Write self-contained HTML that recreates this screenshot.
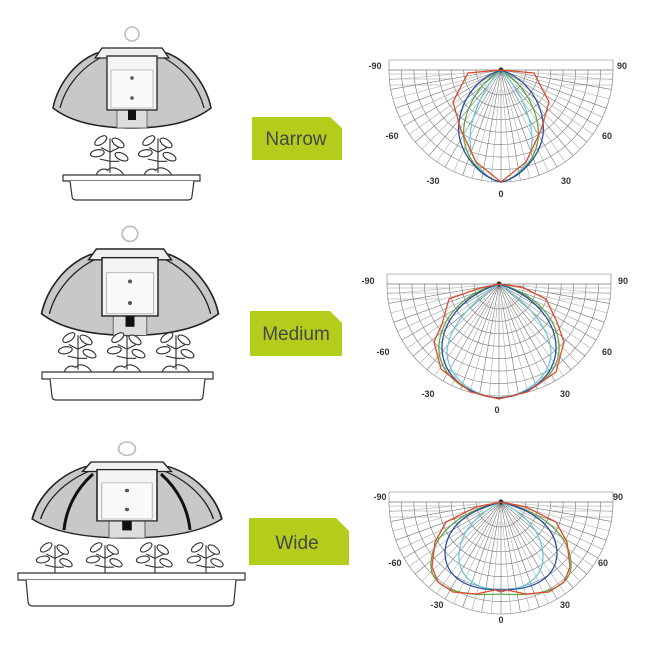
<!DOCTYPE html>
<html><head><style>
html,body{margin:0;padding:0;background:#fff;width:650px;height:650px;overflow:hidden}
svg{display:block}
.ax{font-family:"Liberation Sans",sans-serif;font-size:9px;font-weight:bold;fill:#333;text-anchor:middle}
.lb{font-family:"Liberation Sans",sans-serif;font-size:19px;fill:#474747;text-anchor:middle}
</style></head><body>
<svg width="650" height="650" viewBox="0 0 650 650" xmlns="http://www.w3.org/2000/svg">
<defs>
<g id="grid" fill="none" stroke="#777" stroke-width="0.6">
 <path d="M-112,-10 L112,-10 M-112,-10 L-112,0 M112,-10 L112,0 M-112,0 L112,0"/>
 <path d="M-112,4 L-45,4 M45,4 L112,4 M-112,9 L-50,9 M50,9 L112,9 M-112,15 L-60,15 M60,15 L112,15" stroke="#999"/>
 <path d="M-24.9,0 A24.9,24.9 0 0 0 24.9,0 M-37.3,0 A37.3,37.3 0 0 0 37.3,0 M-49.8,0 A49.8,49.8 0 0 0 49.8,0 M-62.2,0 A62.2,62.2 0 0 0 62.2,0 M-74.7,0 A74.7,74.7 0 0 0 74.7,0 M-87.1,0 A87.1,87.1 0 0 0 87.1,0 M-99.6,0 A99.6,99.6 0 0 0 99.6,0 M-112,0 A112,112 0 0 0 112,0"/>
 <g>
  <line x1="0" y1="0" x2="0" y2="112" transform="rotate(-90)"/>
  <line x1="0" y1="0" x2="0" y2="112" transform="rotate(-80)"/>
  <line x1="0" y1="0" x2="0" y2="112" transform="rotate(-70)"/>
  <line x1="0" y1="0" x2="0" y2="112" transform="rotate(-60)"/>
  <line x1="0" y1="0" x2="0" y2="112" transform="rotate(-50)"/>
  <line x1="0" y1="0" x2="0" y2="112" transform="rotate(-40)"/>
  <line x1="0" y1="0" x2="0" y2="112" transform="rotate(-30)"/>
  <line x1="0" y1="0" x2="0" y2="112" transform="rotate(-20)"/>
  <line x1="0" y1="0" x2="0" y2="112" transform="rotate(-10)"/>
  <line x1="0" y1="0" x2="0" y2="112"/>
  <line x1="0" y1="0" x2="0" y2="112" transform="rotate(10)"/>
  <line x1="0" y1="0" x2="0" y2="112" transform="rotate(20)"/>
  <line x1="0" y1="0" x2="0" y2="112" transform="rotate(30)"/>
  <line x1="0" y1="0" x2="0" y2="112" transform="rotate(40)"/>
  <line x1="0" y1="0" x2="0" y2="112" transform="rotate(50)"/>
  <line x1="0" y1="0" x2="0" y2="112" transform="rotate(60)"/>
  <line x1="0" y1="0" x2="0" y2="112" transform="rotate(70)"/>
  <line x1="0" y1="0" x2="0" y2="112" transform="rotate(80)"/>
  <line x1="0" y1="0" x2="0" y2="112" transform="rotate(90)"/>
 </g>
 <g stroke="#aaa">
  <line x1="0" y1="20" x2="0" y2="112" transform="rotate(-85)"/>
  <line x1="0" y1="20" x2="0" y2="112" transform="rotate(-75)"/>
  <line x1="0" y1="20" x2="0" y2="112" transform="rotate(-65)"/>
  <line x1="0" y1="20" x2="0" y2="112" transform="rotate(-55)"/>
  <line x1="0" y1="20" x2="0" y2="112" transform="rotate(-45)"/>
  <line x1="0" y1="20" x2="0" y2="112" transform="rotate(-35)"/>
  <line x1="0" y1="20" x2="0" y2="112" transform="rotate(-25)"/>
  <line x1="0" y1="20" x2="0" y2="112" transform="rotate(-15)"/>
  <line x1="0" y1="20" x2="0" y2="112" transform="rotate(-5)"/>
  <line x1="0" y1="20" x2="0" y2="112" transform="rotate(5)"/>
  <line x1="0" y1="20" x2="0" y2="112" transform="rotate(15)"/>
  <line x1="0" y1="20" x2="0" y2="112" transform="rotate(25)"/>
  <line x1="0" y1="20" x2="0" y2="112" transform="rotate(35)"/>
  <line x1="0" y1="20" x2="0" y2="112" transform="rotate(45)"/>
  <line x1="0" y1="20" x2="0" y2="112" transform="rotate(55)"/>
  <line x1="0" y1="20" x2="0" y2="112" transform="rotate(65)"/>
  <line x1="0" y1="20" x2="0" y2="112" transform="rotate(75)"/>
  <line x1="0" y1="20" x2="0" y2="112" transform="rotate(85)"/>
 </g>
 <circle cx="0" cy="0" r="2.5" fill="#222" stroke="none"/>
</g>
<g id="lamp">
 <circle cx="0" cy="-14" r="7" fill="none" stroke="#bbb" stroke-width="1.5"/>
 <path d="M-35,5 C-60,15 -75,40 -79,60 C-60,75 -30,80 0,80 C30,80 60,75 79,60 C75,40 60,15 35,5 Z" fill="#c8c8c8" stroke="#222" stroke-width="1.5"/>
 <path d="M-30,9 C-52,20 -67,40 -72,60 M30,9 C52,20 67,40 72,60" fill="none" stroke="#222" stroke-width="1.2"/>
 <path d="M-37,10 L-30,0 L30,0 L37,10 Z" fill="#f0f0f0" stroke="#222" stroke-width="1.3"/>
 <rect x="-15" y="60" width="30" height="20" fill="#ddd" stroke="#555" stroke-width="0.8"/>
 <rect x="-25" y="8" width="50" height="54" fill="#f4f4f4" stroke="#222" stroke-width="1.3"/>
 <rect x="-21" y="22" width="42" height="38" fill="#fafafa" stroke="#999" stroke-width="0.6"/>
 <circle cx="0" cy="30" r="1.8" fill="#555"/><circle cx="0" cy="50" r="1.8" fill="#555"/>
 <rect x="-4" y="62" width="8" height="10" fill="#111"/>
</g>
<g id="plant" fill="#fff" stroke="#333" stroke-width="1">
 <path d="M-12,34 C-10,28 -4,28 -2,30 C0,26 8,27 12,34 Z"/>
 <path d="M0,32 L0,2 M0,14 L-8,10 M0,14 L8,10 M0,22 L-9,20 M0,22 L8,22" fill="none"/>
 <ellipse cx="-8" cy="4" rx="6" ry="3" transform="rotate(-35 -8 4)"/>
 <ellipse cx="7" cy="6" rx="6" ry="3" transform="rotate(35 7 6)"/>
 <ellipse cx="-11" cy="15" rx="6" ry="3" transform="rotate(-10 -11 15)"/>
 <ellipse cx="10" cy="18" rx="6" ry="3" transform="rotate(25 10 18)"/>
</g>
</defs>

<!-- NARROW -->
<use href="#lamp" transform="translate(132,48)"/>
<use href="#plant" transform="translate(110,136) scale(1.15)"/>
<use href="#plant" transform="translate(158,136) scale(1.15)"/>
<path d="M63,175 L200,175 L200,181 L63,181 Z" fill="#fff" stroke="#333" stroke-width="1.2"/>
<path d="M70,181 L72,196 Q72,200 76,200 L188,200 Q192,200 192,196 L194,181" fill="#fff" stroke="#333" stroke-width="1.2"/>

<path d="M252,117 L330,117 L342,128 L342,160 L252,160 Z" fill="#b4cc1b"/>
<text class="lb" x="296" y="145">Narrow</text>

<g transform="translate(501,70)">
 <use href="#grid"/>
 <g fill="none" stroke-width="1.3">
  <path d="M0,0 C-20,20 -35,55 -30,80 C-25,100 -8,112 0,112 C8,112 25,100 30,80 C35,55 20,20 0,0" stroke="#6cc7d8"/>
  <path d="M0,0 C-25,15 -40,45 -37,70 C-33,95 -12,110 0,112 C12,110 33,95 37,70 C40,45 25,15 0,0" stroke="#5fa84a"/>
  <path d="M0,0 C-30,10 -45,40 -42,65 C-38,90 -15,110 0,112 C15,110 38,90 42,65 C45,40 30,10 0,0" stroke="#2a4fa0"/>
  <path d="M0,0 L-33,3 L-48,32 L-40,60 L-25,92 L0,112 L25,92 L40,60 L48,32 L33,3 Z" stroke="#e04a2a"/>
 </g>
</g>
<text class="ax" x="375" y="69">-90</text><text class="ax" x="622" y="69">90</text>
<text class="ax" x="392" y="139">-60</text><text class="ax" x="607" y="139">60</text>
<text class="ax" x="433" y="184">-30</text><text class="ax" x="566" y="184">30</text>
<text class="ax" x="501" y="197">0</text>

<!-- MEDIUM -->
<use href="#lamp" transform="translate(130,249) scale(1.12,1.08)"/>
<use href="#plant" transform="translate(78,333) scale(1.15)"/>
<use href="#plant" transform="translate(127,333) scale(1.15)"/>
<use href="#plant" transform="translate(176,333) scale(1.15)"/>
<path d="M42,372 L213,372 L213,379 L42,379 Z" fill="#fff" stroke="#333" stroke-width="1.2"/>
<path d="M50,379 L52,396 Q52,400 56,400 L199,400 Q203,400 203,396 L205,379" fill="#fff" stroke="#333" stroke-width="1.2"/>

<path d="M250,311 L330,311 L342,323 L342,356 L250,356 Z" fill="#b4cc1b"/>
<text class="lb" x="296" y="340">Medium</text>

<g transform="translate(499,284)">
 <use href="#grid"/>
 <g fill="none" stroke-width="1.3">
  <path d="M0,0 C-30,20 -52,45 -52,70 C-50,95 -25,112 0,114 C25,112 50,95 52,70 C52,45 30,20 0,0" stroke="#6cc7d8"/>
  <path d="M0,0 C-40,10 -62,40 -60,68 C-57,95 -28,112 0,114 C28,112 57,95 60,68 C62,40 40,10 0,0" stroke="#5fa84a"/>
  <path d="M0,0 C-38,12 -58,40 -57,66 C-55,95 -28,112 0,114 C28,112 55,95 57,66 C58,40 38,12 0,0" stroke="#2a4fa0"/>
  <path d="M0,0 L-22,5 L-50,15 L-57,40 L-65,58 L-58,85 L-28,108 L0,115 L28,108 L57,88 L65,58 L58,38 L47,15 L23,3 Z" stroke="#e04a2a"/>
 </g>
</g>
<text class="ax" x="368" y="284">-90</text><text class="ax" x="623" y="284">90</text>
<text class="ax" x="383" y="355">-60</text><text class="ax" x="607" y="355">60</text>
<text class="ax" x="428" y="397">-30</text><text class="ax" x="565" y="397">30</text>
<text class="ax" x="497" y="413">0</text>

<!-- WIDE -->
<use href="#lamp" transform="translate(127,462) scale(1.2,0.95)"/>
<path d="M93,474 C75,490 66,510 64,530 M161,474 C179,490 188,510 190,530" fill="none" stroke="#111" stroke-width="3"/>
<use href="#plant" transform="translate(55,543) scale(1.1)"/>
<use href="#plant" transform="translate(105,543) scale(1.1)"/>
<use href="#plant" transform="translate(155,543) scale(1.1)"/>
<use href="#plant" transform="translate(206,543) scale(1.1)"/>
<path d="M18,573 L245,573 L245,580 L18,580 Z" fill="#fff" stroke="#333" stroke-width="1.2"/>
<path d="M26,580 L28,601 Q28,606 33,606 L229,606 Q234,606 234,601 L236,580" fill="#fff" stroke="#333" stroke-width="1.2"/>

<path d="M249,518 L336,518 L349,531 L349,565 L249,565 Z" fill="#b4cc1b"/>
<text class="lb" x="297" y="549">Wide</text>

<g transform="translate(501,502)">
 <use href="#grid"/>
 <g fill="none" stroke-width="1.3">
  <path d="M0,0 C-30,15 -42,35 -42,55 C-42,75 -25,88 0,88 C25,88 42,75 42,55 C42,35 30,15 0,0" stroke="#6cc7d8"/>
  <path d="M0,0 C-45,10 -68,35 -70,60 C-72,85 -45,95 0,92 C45,95 72,85 70,60 C68,35 45,10 0,0" stroke="#5fa84a"/>
  <path d="M0,0 C-40,10 -56,30 -56,52 C-55,75 -35,88 0,88 C35,88 55,75 56,52 C56,30 40,10 0,0" stroke="#2a4fa0"/>
  <path d="M0,0 L-25,5 L-55,20 L-66,40 L-69,65 L-63,80 L-48,90 L-25,92 L-6,88 L0,90 L6,88 L25,92 L48,90 L63,80 L69,65 L66,40 L55,20 L25,5 Z" stroke="#e04a2a"/>
 </g>
</g>
<text class="ax" x="380" y="500">-90</text><text class="ax" x="618" y="500">90</text>
<text class="ax" x="395" y="566">-60</text><text class="ax" x="603" y="566">60</text>
<text class="ax" x="437" y="608">-30</text><text class="ax" x="565" y="608">30</text>
<text class="ax" x="501" y="623">0</text>
</svg>
</body></html>
